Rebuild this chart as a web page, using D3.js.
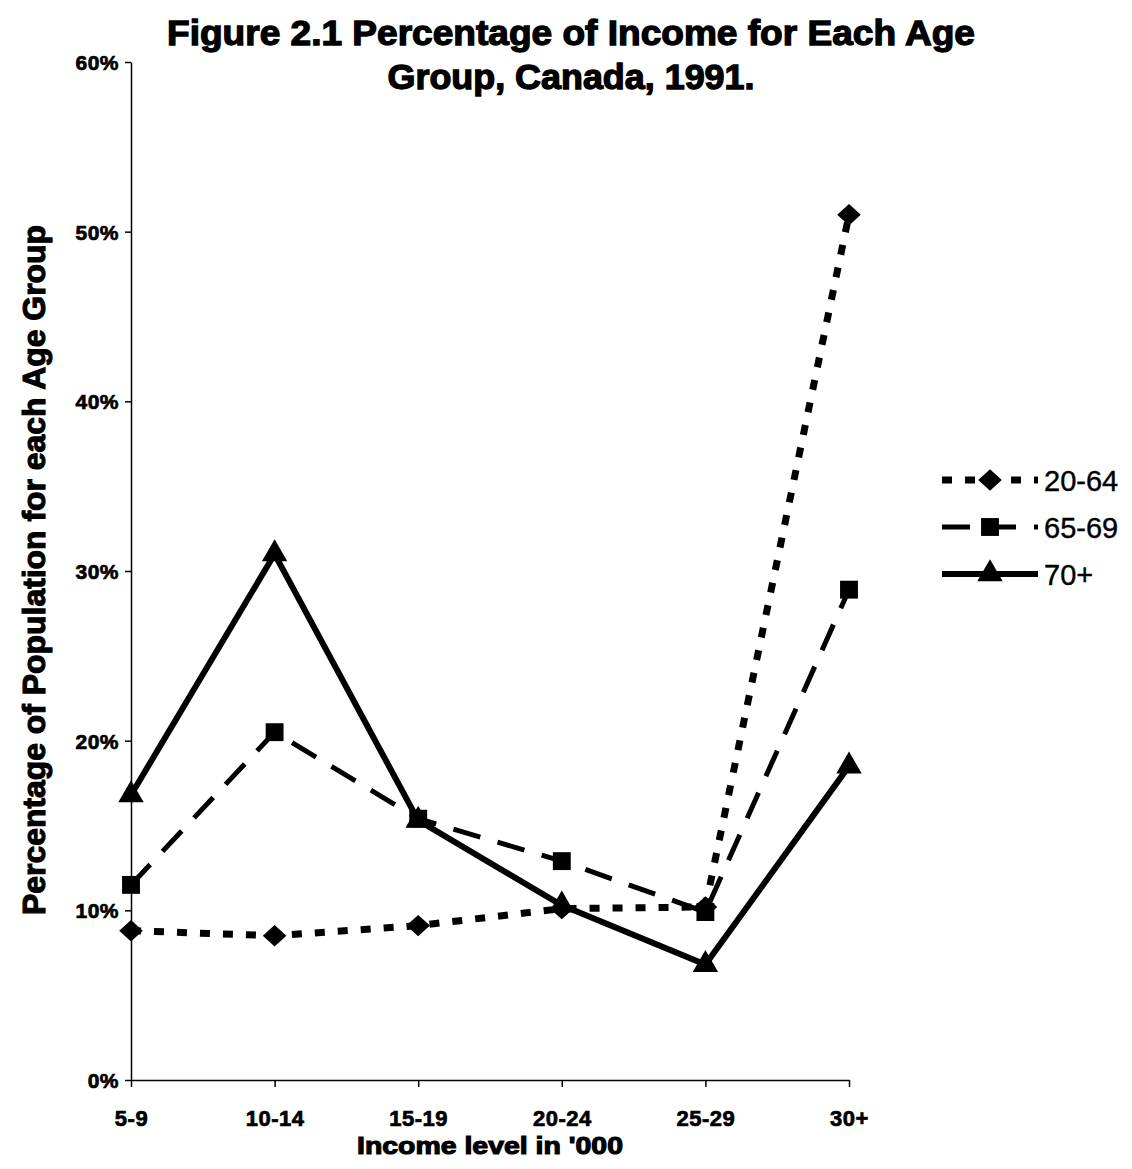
<html>
<head>
<style>
  body{ margin:0; background:#fff; }
  text{ font-family:"Liberation Sans", Arial, sans-serif; fill:#000; }
</style>
<script src="https://d3js.org/d3.v7.min.js"></script>
</head>
<body>
<svg id="chart" width="1132" height="1169"></svg>
<script>
// data
let categories = ["5-9","10-14","15-19","20-24","25-29","30+"];
let s2064 = [8.8, 8.5, 9.1, 10.1, 10.2, 51.0];
let s6569 = [11.5, 20.5, 15.4, 12.9, 9.9, 28.9];
let s70 = [16.8, 31.0, 15.3, 10.3, 6.8, 18.5];
let yTicks = [0,10,20,30,40,50,60];
let seriesNames = ["20-64","65-69","70+"];

let diamond = {draw:function(ctx,size){ let r=Math.sqrt(size/2); ctx.moveTo(0,-r);ctx.lineTo(r*1.1,0);ctx.lineTo(0,r);ctx.lineTo(-r*1.1,0);ctx.closePath(); }};

let series = [
  {name:seriesNames[0], values:s2064, dash:"10,13", width:7, marker:diamond, msize:230},
  {name:seriesNames[1], values:s6569, dash:"28,18", width:5, marker:d3.symbolSquare, msize:320},
  {name:seriesNames[2], values:s70, dash:null, width:6, marker:d3.symbolTriangle, msize:280}
];

let svg = d3.select("#chart");
let x = d3.scalePoint().domain(categories).range([131,849]);
let y = d3.scaleLinear().domain([0,60]).range([1080,62]);

function heavy(sel, w){
  return sel.style("font-weight","bold").attr("stroke","#000").attr("stroke-width",w);
}

// title
heavy(svg.append("text").attr("x",571).attr("y",45).attr("text-anchor","middle")
  .style("font-size","35px").attr("textLength",808).attr("lengthAdjust","spacingAndGlyphs")
  .text("Figure 2.1 Percentage of Income for Each Age"),1.3);
heavy(svg.append("text").attr("x",571).attr("y",89).attr("text-anchor","middle")
  .style("font-size","35px").attr("textLength",367).attr("lengthAdjust","spacingAndGlyphs")
  .text("Group, Canada, 1991."),1.3);

// axes
let yAxis = svg.append("g").attr("transform","translate(131,0)")
  .call(d3.axisLeft(y).tickValues(yTicks).tickSize(6).tickSizeOuter(0).tickFormat(d=>d+"%"));
let xAxis = svg.append("g").attr("transform","translate(0,1080)")
  .call(d3.axisBottom(x).tickSize(7).tickSizeOuter(0));
[yAxis,xAxis].forEach(a=>{
  a.select(".domain").attr("stroke","#000").attr("stroke-width",1.5);
  a.selectAll(".tick line").attr("stroke","#000").attr("stroke-width",1.5);
  a.selectAll("text").style("font-size","21px").style("font-weight","bold")
   .style("letter-spacing","0.5px")
   .attr("fill","#000").attr("stroke","#000").attr("stroke-width",0.7);
});
yAxis.selectAll("text").attr("x",-12).attr("dy","0.35em");
xAxis.selectAll("text").style("font-size","22px").attr("y",30);

// axis titles
heavy(svg.append("text").attr("x",490).attr("y",1154).attr("text-anchor","middle")
  .style("font-size","24px").attr("textLength",266).attr("lengthAdjust","spacingAndGlyphs")
  .text("Income level in '000"),1.1);
heavy(svg.append("text").attr("transform","translate(45,570) rotate(-90)").attr("text-anchor","middle")
  .style("font-size","31px").attr("textLength",690).attr("lengthAdjust","spacingAndGlyphs")
  .text("Percentage of Population for each Age Group"),1.1);

// lines
let line = d3.line().x((d,i)=>x(categories[i])).y(d=>y(d));
series.forEach(s=>{
  svg.append("path").datum(s.values).attr("d",line)
    .attr("fill","none").attr("stroke","#000").attr("stroke-width",s.width)
    .attr("stroke-dasharray",s.dash).attr("stroke-linejoin","miter");
  svg.selectAll(null).data(s.values).enter().append("path")
    .attr("d",d3.symbol().type(s.marker).size(s.msize))
    .attr("transform",(d,i)=>"translate("+x(categories[i])+","+y(d)+")")
    .attr("fill","#000");
});

// legend
let lg = svg.append("g").attr("transform","translate(942,480)");
series.forEach((s,i)=>{
  let g = lg.append("g").attr("transform","translate(0,"+(i*47)+")");
  g.append("line").attr("x1",0).attr("x2",96).attr("y1",0).attr("y2",0)
    .attr("stroke","#000").attr("stroke-width",s.width).attr("stroke-dasharray",s.dash);
  g.append("path").attr("d",d3.symbol().type(s.marker).size(s.msize))
    .attr("transform","translate(48,0)");
  g.append("text").attr("x",102).attr("y",11).style("font-size","29px")
    .attr("stroke","#000").attr("stroke-width",0.4).text(s.name);
});
</script>
</body>
</html>
